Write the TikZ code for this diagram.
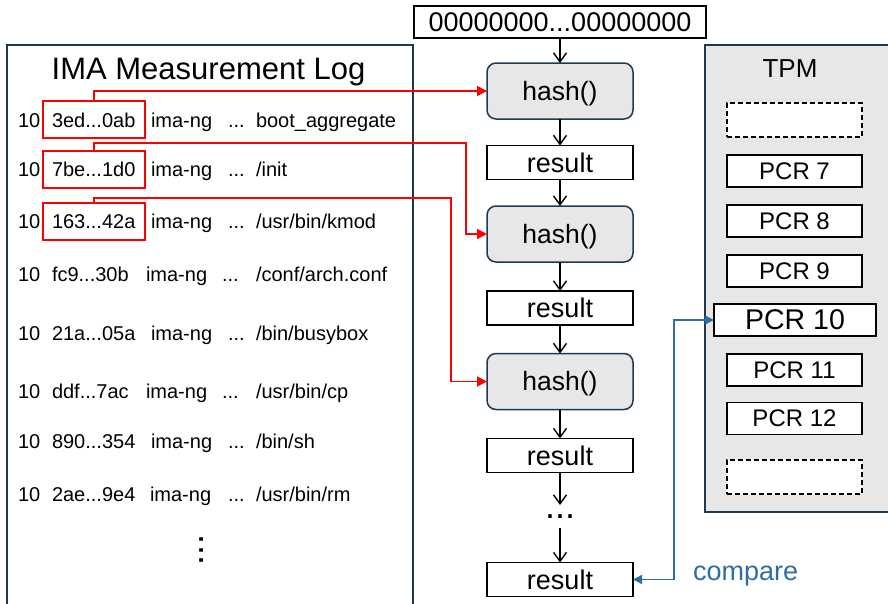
\documentclass[tikz,border=0pt]{standalone}
\usepackage{fontspec}
\setmainfont{Liberation Sans}
\usetikzlibrary{arrows.meta}
\definecolor{slate}{HTML}{1F3A4F}
\definecolor{boxgray}{HTML}{E7E7E7}
\definecolor{cmpblue}{HTML}{2E6DA8}

% one line of the measurement log: name, baseline, digest, x of template, x of dots, path
\newcommand{\logrow}[6]{%
  \node[logtxt] (#1n) at (18,#2) {10};
  \node[logtxt] (#1h) at (52,#2) {#3};
  \node[logtxt] (#1t) at (#4,#2) {ima-ng};
  \node[logtxt] (#1d) at (#5,#2) {...};
  \node[logtxt] (#1p) at (256,#2) {#6};
}

\begin{document}
\begin{tikzpicture}[x=1pt,y=-1pt,
  every node/.style={inner sep=0pt, outer sep=0pt},
  logtxt/.style={font=\fontsize{20}{22}\selectfont, anchor=base west},
  digestbox/.style={draw=red, line width=1.6pt, minimum width=102pt, minimum height=37pt},
  hashbox/.style={draw=slate, line width=1.5pt, fill=boxgray, rounded corners=9pt,
    minimum width=146pt, minimum height=56pt, text height=18pt, text depth=0pt,
    font=\fontsize{26.5}{30}\selectfont},
  resbox/.style={draw=black, line width=1.6pt, fill=white,
    minimum width=146pt, minimum height=34pt, font=\fontsize{27}{30}\selectfont},
  pcrbox/.style={draw=black, line width=1.6pt, fill=white,
    minimum width=135pt, minimum height=32pt, font=\fontsize{24}{28}\selectfont},
  emptypcr/.style={pcrbox, dash pattern=on 5pt off 3pt, minimum height=34pt},
  flow/.style={-{Straight Barb[length=9pt,width=13pt]}, line width=1.4pt},
  feed/.style={red, line width=1.6pt, -{Triangle[length=10pt,width=10pt]}},
  cmp/.style={cmpblue, line width=1.4pt,
    {Triangle[length=9pt,width=9pt]}-{Triangle[length=9pt,width=9pt]}}
]
\useasboundingbox (0,0) rectangle (888,603);

% measurement log panel
\draw[slate, line width=1.8pt] (7,612) -- (7,45) -- (413,45) -- (413,612);
\node[font=\fontsize{31}{34}\selectfont, anchor=base] (title) at (208.5,79.3) {IMA Measurement Log};

\logrow{ra}{127.3}{3ed...0ab}{151}{228}{boot\_aggregate}
\logrow{rb}{176.7}{7be...1d0}{151}{228}{/init}
\logrow{rc}{228.3}{163...42a}{151}{228}{/usr/bin/kmod}
\logrow{rd}{281.5}{fc9...30b}{146}{222}{/conf/arch.conf}
\logrow{re}{340}{21a...05a}{151}{228}{/bin/busybox}
\logrow{rf}{398.3}{ddf...7ac}{146}{222}{/usr/bin/cp}
\logrow{rg}{448.3}{890...354}{151}{228}{/bin/sh}
\logrow{rh}{501.7}{2ae...9e4}{150}{228}{/usr/bin/rm}
\node[font=\fontsize{36}{40}\selectfont, rotate=90, text height=4pt, text depth=0pt] (more) at (201,550) {...};

\node[digestbox] (dg1) at (94,119.5) {};
\node[digestbox] (dg2) at (94,169.5) {};
\node[digestbox] (dg3) at (94,221.5) {};

% TPM panel
\draw[slate, line width=1.8pt, fill=boxgray] (895,45) -- (705,45) -- (705,512) -- (895,512);
\node[font=\fontsize{26}{30}\selectfont, anchor=base] (tpm) at (790,77.3) {TPM};
\node[emptypcr] (slotA) at (794.5,120) {};
\node[pcrbox] (pcr7) at (794.5,171) {PCR 7};
\node[pcrbox] (pcr8) at (794.5,221) {PCR 8};
\node[pcrbox] (pcr9) at (794.5,271) {PCR 9};
\node[pcrbox, minimum width=162pt, font=\fontsize{28.5}{32}\selectfont] (pcr10) at (795,320) {PCR 10};
\node[pcrbox] (pcr11) at (794.5,370) {PCR 11};
\node[pcrbox] (pcr12) at (794.5,418.5) {PCR 12};
\node[emptypcr] (slotB) at (794.5,477) {};

% hash chain
\node[resbox, minimum width=292pt, minimum height=32pt] (init) at (560,22) {00000000...00000000};
\node[hashbox] (hash1) at (560,91) {hash()};
\node[resbox] (res1) at (560,162.5) {result};
\node[hashbox] (hash2) at (560,234) {hash()};
\node[resbox] (res2) at (560,308) {result};
\node[hashbox] (hash3) at (560,381.5) {hash()};
\node[resbox] (res3) at (560,455.5) {result};
\node[font=\fontsize{36}{40}\selectfont, text height=4pt, text depth=0pt, minimum height=23pt] (dots) at (560,516.5) {...};
\node[resbox] (res4) at (560,579.5) {result};

\draw[flow] (init) -- (hash1);
\draw[flow] (hash1) -- (res1);
\draw[flow] (res1) -- (hash2);
\draw[flow] (hash2) -- (res2);
\draw[flow] (res2) -- (hash3);
\draw[flow] (hash3) -- (res3);
\draw[flow] (res3) -- (dots);
\draw[flow] (dots) -- (res4);

% digests fed into the chain
\coordinate (k2) at (466,143);
\coordinate (k3) at (451,198);
\draw[feed] (dg1.north) |- (hash1.west);
\draw[feed] (dg2.north) |- (k2) |- (hash2.west);
\draw[feed] (dg3.north) |- (k3) |- (hash3.west);

% final value checked against PCR 10
\coordinate (k4) at (674,320);
\draw[cmp] (res4.east) -| (k4) -- (pcr10.west);
\node[font=\fontsize{27}{30}\selectfont, text=cmpblue, anchor=base west] (cmplabel) at (693,580) {compare};
\end{tikzpicture}
\end{document}
